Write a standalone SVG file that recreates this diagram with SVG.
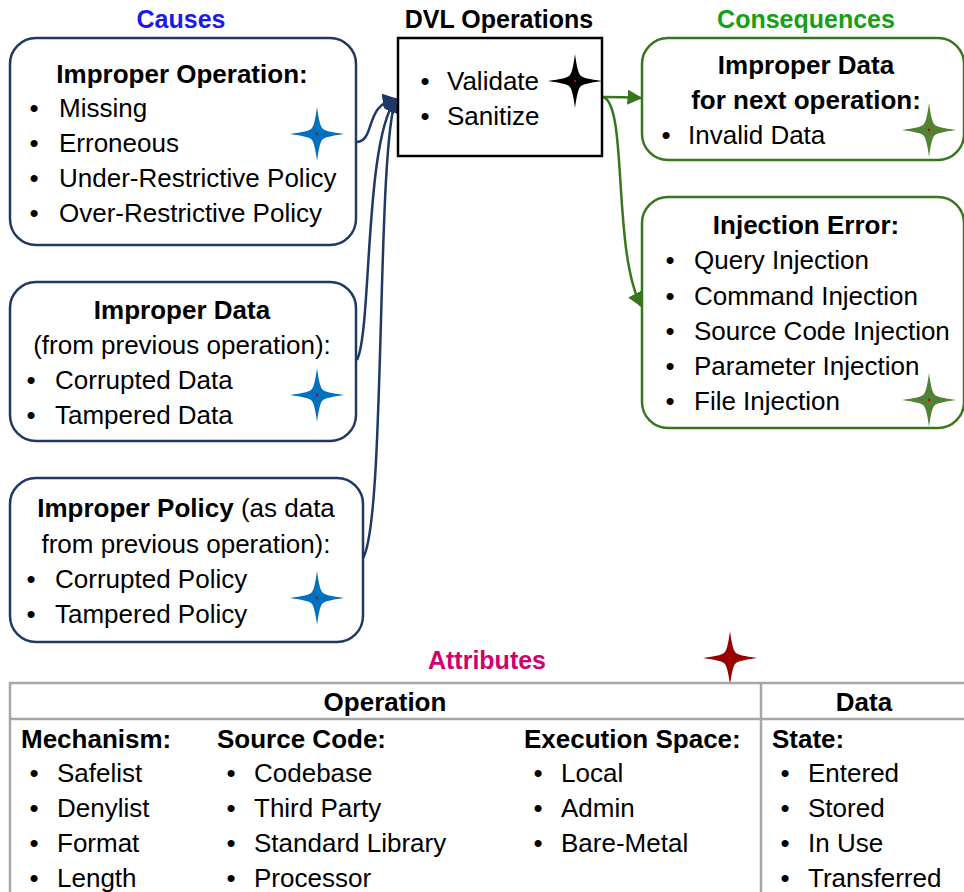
<svg xmlns="http://www.w3.org/2000/svg" width="964" height="892" viewBox="0 0 964 892">
  <style>
    text { font-family: "Liberation Sans", Arial, sans-serif; font-size: 26px; fill: #000; }
    .b { font-weight: bold; }
    .c { text-anchor: middle; }
    .title { font-weight: bold; font-size: 25px; text-anchor: middle; }
    .cause { fill: #fff; stroke: #1f3864; stroke-width: 2.5; }
    .cons { fill: #fff; stroke: #38761d; stroke-width: 2.5; }
    .dvl { fill: #fff; stroke: #000; stroke-width: 2.5; }
    .grid { fill: none; stroke: #a6a6a6; stroke-width: 2.5; }
    .navy { fill: none; stroke: #1f3864; stroke-width: 2.5; }
    .green { fill: none; stroke: #38761d; stroke-width: 2.5; }
  </style>
  <defs>
    <g id="star">
      <path d="M0,-27 Q2.5,-8 5.5,-5.5 Q8,-2.5 27,0 Q8,2.5 5.5,5.5 Q2.5,8 0,27 Q-2.5,8 -5.5,5.5 Q-8,2.5 -27,0 Q-8,-2.5 -5.5,-5.5 Q-2.5,-8 0,-27Z"/>
      <circle r="1.2" fill="#c00000"/>
    </g>
    <marker id="arrNavy" viewBox="0 0 10 10" refX="9" refY="5" markerWidth="6" markerHeight="6" orient="auto">
      <path d="M0,0 L10,5 L0,10Z" fill="#1f3864"/>
    </marker>
    <marker id="arrGreen" viewBox="0 0 10 10" refX="9" refY="5" markerWidth="6" markerHeight="6" orient="auto">
      <path d="M0,0 L10,5 L0,10Z" fill="#38761d"/>
    </marker>
  </defs>

  <!-- column titles -->
  <text class="title" x="181" y="28" style="fill:#1a1aee">Causes</text>
  <text class="title" x="499" y="28">DVL Operations</text>
  <text class="title" x="806" y="28" style="fill:#15a015">Consequences</text>

  <!-- connectors -->
  <g id="connectors">
    <path class="navy" d="M357,142 C376,140 364,104 396,99" marker-end="url(#arrNavy)"/>
    <path class="navy" d="M357,360 C372,330 364,140 396,99" marker-end="url(#arrNavy)"/>
    <path class="navy" d="M363,558 C386,520 376,150 396,99" marker-end="url(#arrNavy)"/>
    <path class="green" d="M603,97 C615,97 625,97 641,98" marker-end="url(#arrGreen)"/>
    <path class="green" d="M603,97 C628,104 612,250 641,306" marker-end="url(#arrGreen)"/>
  </g>

  <!-- causes -->
  <g id="cause-operation">
    <rect class="cause" x="10" y="38" width="346" height="207" rx="26"/>
    <text class="b c" x="182" y="83">Improper Operation:</text>
    <text class="c" x="34" y="117">•</text><text x="59" y="117">Missing</text>
    <text class="c" x="34" y="152">•</text><text x="59" y="152">Erroneous</text>
    <text class="c" x="34" y="187">•</text><text x="59" y="187">Under-Restrictive Policy</text>
    <text class="c" x="34" y="222">•</text><text x="59" y="222">Over-Restrictive Policy</text>
    <use href="#star" x="317" y="134" fill="#0070c0"/>
  </g>

  <g id="cause-data">
    <rect class="cause" x="10" y="282" width="346" height="159" rx="26"/>
    <text class="b c" x="182" y="319">Improper Data</text>
    <text class="c" x="182" y="354">(from previous operation):</text>
    <text class="c" x="31" y="389">•</text><text x="55" y="389">Corrupted Data</text>
    <text class="c" x="31" y="424">•</text><text x="55" y="424">Tampered Data</text>
    <use href="#star" x="317" y="395" fill="#0070c0"/>
  </g>

  <g id="cause-policy">
    <rect class="cause" x="10" y="478" width="353" height="164" rx="26"/>
    <text class="c" x="186" y="517"><tspan class="b">Improper Policy</tspan> (as data</text>
    <text class="c" x="186" y="553">from previous operation):</text>
    <text class="c" x="31" y="588">•</text><text x="55" y="588">Corrupted Policy</text>
    <text class="c" x="31" y="623">•</text><text x="55" y="623">Tampered Policy</text>
    <use href="#star" x="317" y="598" fill="#0070c0"/>
  </g>

  <!-- operations -->
  <g id="dvl-operations">
    <rect class="dvl" x="398" y="38" width="204" height="118"/>
    <text class="c" x="425" y="90">•</text><text x="447" y="90">Validate</text>
    <text class="c" x="425" y="125">•</text><text x="447" y="125">Sanitize</text>
    <use href="#star" x="575" y="81" fill="#000"/>
  </g>

  <!-- consequences -->
  <g id="cons-data">
    <rect class="cons" x="642" y="38" width="322" height="122" rx="26"/>
    <text class="b c" x="806" y="74">Improper Data</text>
    <text class="b c" x="806" y="109">for next operation:</text>
    <text class="c" x="666" y="144">•</text><text x="688" y="144">Invalid Data</text>
    <use href="#star" x="929" y="130" fill="#548235"/>
  </g>

  <g id="cons-injection">
    <rect class="cons" x="642" y="197" width="322" height="231" rx="26"/>
    <text class="b c" x="806" y="234">Injection Error:</text>
    <text class="c" x="670" y="269">•</text><text x="694" y="269">Query Injection</text>
    <text class="c" x="670" y="305">•</text><text x="694" y="305">Command Injection</text>
    <text class="c" x="670" y="340">•</text><text x="694" y="340">Source Code Injection</text>
    <text class="c" x="670" y="375">•</text><text x="694" y="375">Parameter Injection</text>
    <text class="c" x="670" y="410">•</text><text x="694" y="410">File Injection</text>
    <use href="#star" x="929" y="400" fill="#548235"/>
  </g>

  <!-- attributes table -->
  <g id="attributes">
    <text class="title" x="487" y="669" style="fill:#d0006f">Attributes</text>
    <use href="#star" x="730" y="658" fill="#990000"/>
    <rect class="grid" x="10" y="683" width="960" height="220"/>
    <line class="grid" x1="10" y1="719" x2="964" y2="719"/>
    <line class="grid" x1="761" y1="683" x2="761" y2="892"/>
    <text class="b c" x="385" y="711">Operation</text>
    <text class="b c" x="864" y="711">Data</text>

    <text class="b" x="21" y="748">Mechanism:</text>
    <text class="c" x="34" y="782">•</text><text x="57" y="782">Safelist</text>
    <text class="c" x="34" y="817">•</text><text x="57" y="817">Denylist</text>
    <text class="c" x="34" y="852">•</text><text x="57" y="852">Format</text>
    <text class="c" x="34" y="887">•</text><text x="57" y="887">Length</text>

    <text class="b" x="217" y="748">Source Code:</text>
    <text class="c" x="231" y="782">•</text><text x="254" y="782">Codebase</text>
    <text class="c" x="231" y="817">•</text><text x="254" y="817">Third Party</text>
    <text class="c" x="231" y="852">•</text><text x="254" y="852">Standard Library</text>
    <text class="c" x="231" y="887">•</text><text x="254" y="887">Processor</text>

    <text class="b" x="524" y="748">Execution Space:</text>
    <text class="c" x="538" y="782">•</text><text x="561" y="782">Local</text>
    <text class="c" x="538" y="817">•</text><text x="561" y="817">Admin</text>
    <text class="c" x="538" y="852">•</text><text x="561" y="852">Bare-Metal</text>

    <text class="b" x="772" y="748">State:</text>
    <text class="c" x="785" y="782">•</text><text x="808" y="782">Entered</text>
    <text class="c" x="785" y="817">•</text><text x="808" y="817">Stored</text>
    <text class="c" x="785" y="852">•</text><text x="808" y="852">In Use</text>
    <text class="c" x="785" y="887">•</text><text x="808" y="887">Transferred</text>
  </g>
</svg>
